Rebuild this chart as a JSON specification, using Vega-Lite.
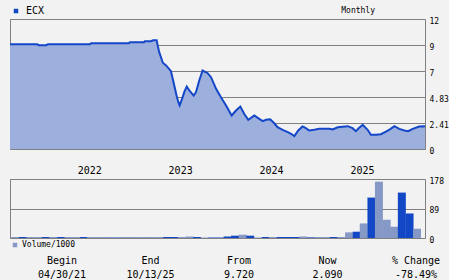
{
  "$schema": "https://vega.github.io/schema/vega-lite/v6.json",
  "background": "#f2f2f2",
  "padding": {"left": 5, "top": 5, "right": 0, "bottom": 0},
  "bounds": "flush",
  "spacing": 30,
  "config": {
    "font": "DejaVu Sans Mono",
    "view": {"stroke": "#808080", "strokeWidth": 1},
    "axis": {"labelFont": "DejaVu Sans Mono", "labelColor": "#000000", "gridColor": "#808080", "gridOpacity": 1, "gridWidth": 1, "domain": false, "ticks": false, "tickSize": 0, "title": null, "labelFlush": false, "labelOverlap": false},
    "legend": {"labelFont": "DejaVu Sans Mono", "labelColor": "#000000"}
  },
  "resolve": {"scale": {"x": "independent", "y": "independent", "color": "independent"}, "legend": {"color": "independent"}},
  "vconcat": [
    {
      "width": 415,
      "height": 130,
      "title": {"text": "Monthly", "anchor": "end", "frame": "group", "font": "DejaVu Sans Mono", "fontSize": 8, "fontWeight": "normal", "color": "#000000", "dx": -50, "dy": 15, "offset": 6},
      "data": {"values": [
        {"d": "2021-04-30", "p": 9.72, "s": "ECX"},
        {"d": "2021-08-14", "p": 9.72, "s": "ECX"},
        {"d": "2021-08-22", "p": 9.63, "s": "ECX"},
        {"d": "2021-09-18", "p": 9.63, "s": "ECX"},
        {"d": "2021-09-26", "p": 9.72, "s": "ECX"},
        {"d": "2022-03-10", "p": 9.72, "s": "ECX"},
        {"d": "2022-03-14", "p": 9.81, "s": "ECX"},
        {"d": "2022-08-09", "p": 9.81, "s": "ECX"},
        {"d": "2022-08-13", "p": 9.90, "s": "ECX"},
        {"d": "2022-10-07", "p": 9.90, "s": "ECX"},
        {"d": "2022-10-11", "p": 10.00, "s": "ECX"},
        {"d": "2022-11-04", "p": 10.00, "s": "ECX"},
        {"d": "2022-11-12", "p": 10.09, "s": "ECX"},
        {"d": "2022-11-26", "p": 10.09, "s": "ECX"},
        {"d": "2022-11-30", "p": 9.60, "s": "ECX"},
        {"d": "2022-12-06", "p": 8.98, "s": "ECX"},
        {"d": "2022-12-13", "p": 8.51, "s": "ECX"},
        {"d": "2022-12-20", "p": 8.00, "s": "ECX"},
        {"d": "2023-01-02", "p": 7.75, "s": "ECX"},
        {"d": "2023-01-21", "p": 7.22, "s": "ECX"},
        {"d": "2023-01-28", "p": 6.51, "s": "ECX"},
        {"d": "2023-02-03", "p": 5.89, "s": "ECX"},
        {"d": "2023-02-12", "p": 4.96, "s": "ECX"},
        {"d": "2023-02-19", "p": 4.34, "s": "ECX"},
        {"d": "2023-02-24", "p": 4.04, "s": "ECX"},
        {"d": "2023-03-08", "p": 4.81, "s": "ECX"},
        {"d": "2023-03-14", "p": 5.27, "s": "ECX"},
        {"d": "2023-03-24", "p": 5.80, "s": "ECX"},
        {"d": "2023-04-03", "p": 5.43, "s": "ECX"},
        {"d": "2023-04-20", "p": 4.96, "s": "ECX"},
        {"d": "2023-04-29", "p": 5.27, "s": "ECX"},
        {"d": "2023-05-12", "p": 6.35, "s": "ECX"},
        {"d": "2023-05-25", "p": 7.28, "s": "ECX"},
        {"d": "2023-06-14", "p": 7.03, "s": "ECX"},
        {"d": "2023-06-27", "p": 6.66, "s": "ECX"},
        {"d": "2023-07-17", "p": 5.58, "s": "ECX"},
        {"d": "2023-08-05", "p": 4.81, "s": "ECX"},
        {"d": "2023-08-25", "p": 4.04, "s": "ECX"},
        {"d": "2023-09-16", "p": 3.11, "s": "ECX"},
        {"d": "2023-10-03", "p": 3.57, "s": "ECX"},
        {"d": "2023-10-20", "p": 3.94, "s": "ECX"},
        {"d": "2023-11-04", "p": 3.27, "s": "ECX"},
        {"d": "2023-11-20", "p": 2.71, "s": "ECX"},
        {"d": "2023-12-14", "p": 3.11, "s": "ECX"},
        {"d": "2024-01-02", "p": 2.80, "s": "ECX"},
        {"d": "2024-01-16", "p": 2.58, "s": "ECX"},
        {"d": "2024-01-29", "p": 2.71, "s": "ECX"},
        {"d": "2024-02-14", "p": 2.76, "s": "ECX"},
        {"d": "2024-03-01", "p": 2.39, "s": "ECX"},
        {"d": "2024-03-14", "p": 2.02, "s": "ECX"},
        {"d": "2024-04-03", "p": 1.78, "s": "ECX"},
        {"d": "2024-04-23", "p": 1.56, "s": "ECX"},
        {"d": "2024-05-06", "p": 1.41, "s": "ECX"},
        {"d": "2024-05-19", "p": 1.19, "s": "ECX"},
        {"d": "2024-06-03", "p": 1.72, "s": "ECX"},
        {"d": "2024-06-20", "p": 2.09, "s": "ECX"},
        {"d": "2024-07-03", "p": 1.93, "s": "ECX"},
        {"d": "2024-07-16", "p": 1.72, "s": "ECX"},
        {"d": "2024-08-05", "p": 1.78, "s": "ECX"},
        {"d": "2024-08-24", "p": 1.87, "s": "ECX"},
        {"d": "2024-10-03", "p": 1.87, "s": "ECX"},
        {"d": "2024-10-16", "p": 1.81, "s": "ECX"},
        {"d": "2024-11-05", "p": 2.02, "s": "ECX"},
        {"d": "2024-12-14", "p": 2.12, "s": "ECX"},
        {"d": "2025-01-02", "p": 1.93, "s": "ECX"},
        {"d": "2025-01-15", "p": 1.65, "s": "ECX"},
        {"d": "2025-01-28", "p": 1.97, "s": "ECX"},
        {"d": "2025-02-11", "p": 2.24, "s": "ECX"},
        {"d": "2025-03-02", "p": 1.78, "s": "ECX"},
        {"d": "2025-03-15", "p": 1.32, "s": "ECX"},
        {"d": "2025-04-04", "p": 1.32, "s": "ECX"},
        {"d": "2025-04-23", "p": 1.37, "s": "ECX"},
        {"d": "2025-05-13", "p": 1.62, "s": "ECX"},
        {"d": "2025-05-30", "p": 1.84, "s": "ECX"},
        {"d": "2025-06-15", "p": 2.12, "s": "ECX"},
        {"d": "2025-07-04", "p": 1.87, "s": "ECX"},
        {"d": "2025-07-24", "p": 1.72, "s": "ECX"},
        {"d": "2025-08-08", "p": 1.65, "s": "ECX"},
        {"d": "2025-08-26", "p": 1.87, "s": "ECX"},
        {"d": "2025-09-20", "p": 2.09, "s": "ECX"},
        {"d": "2025-10-10", "p": 2.12, "s": "ECX"},
        {"d": "2025-10-13", "p": 2.09, "s": "ECX"}
      ]},
      "encoding": {
        "x": {"field": "d", "type": "temporal", "scale": {"domain": ["2021-04-30", "2025-10-13"]}, "axis": null},
        "y": {"field": "p", "type": "quantitative", "scale": {"domain": [0, 12.06], "nice": false, "zero": true},
              "axis": {"orient": "right", "values": [0, 2.412, 4.824, 7.236, 9.648, 12.06], "grid": true, "labelFontSize": 8, "labelPadding": 4, "labelBaseline": "middle", "labelOffset": 2,
                       "labelExpr": "datum.value == 0 ? '0' : datum.value < 3 ? '2.41' : datum.value < 6 ? '4.83' : datum.value < 8 ? '7' : datum.value < 10 ? '9' : '12'"}}
      },
      "layer": [
        {"mark": {"type": "area", "color": "#9dafdc", "interpolate": "linear"}},
        {"mark": {"type": "line", "strokeWidth": 2, "interpolate": "linear"},
         "encoding": {"color": {"field": "s", "type": "nominal", "scale": {"range": ["#1447c8"]},
            "legend": {"title": null, "orient": "none", "legendX": 1, "legendY": -13, "symbolType": "square", "symbolSize": 20, "symbolStrokeWidth": 0, "labelFontSize": 10, "labelOffset": 5,
                       "encode": {"symbols": {"update": {"fill": {"value": "#1447c8"}, "stroke": {"value": "#1447c8"}}}}}}}}
      ]
    },
    {
      "vconcat": [
        {
          "width": 415,
          "height": 59,
          "data": {"values": [
            {"d": "2021-05-01", "v": 3, "c": "down"},
            {"d": "2021-06-01", "v": 3, "c": "up"},
            {"d": "2021-07-01", "v": 3, "c": "down"},
            {"d": "2021-08-01", "v": 3, "c": "down"},
            {"d": "2021-09-01", "v": 3, "c": "up"},
            {"d": "2021-10-01", "v": 3, "c": "down"},
            {"d": "2021-11-01", "v": 3, "c": "up"},
            {"d": "2021-12-01", "v": 3, "c": "down"},
            {"d": "2022-01-01", "v": 3, "c": "down"},
            {"d": "2022-02-01", "v": 3, "c": "up"},
            {"d": "2022-03-01", "v": 3, "c": "down"},
            {"d": "2022-04-01", "v": 3, "c": "down"},
            {"d": "2022-05-01", "v": 3, "c": "down"},
            {"d": "2022-06-01", "v": 1.5, "c": "up"},
            {"d": "2022-07-01", "v": 3, "c": "down"},
            {"d": "2022-08-01", "v": 3, "c": "down"},
            {"d": "2022-09-01", "v": 3, "c": "down"},
            {"d": "2022-10-01", "v": 3, "c": "down"},
            {"d": "2022-11-01", "v": 3, "c": "down"},
            {"d": "2022-12-01", "v": 3, "c": "down"},
            {"d": "2023-01-01", "v": 3, "c": "up"},
            {"d": "2023-02-01", "v": 3, "c": "up"},
            {"d": "2023-03-01", "v": 3, "c": "down"},
            {"d": "2023-04-01", "v": 4.5, "c": "down"},
            {"d": "2023-05-01", "v": 3, "c": "up"},
            {"d": "2023-06-01", "v": 1.5, "c": "down"},
            {"d": "2023-07-01", "v": 1.5, "c": "up"},
            {"d": "2023-08-01", "v": 1.5, "c": "up"},
            {"d": "2023-09-01", "v": 4.5, "c": "up"},
            {"d": "2023-10-01", "v": 7, "c": "up"},
            {"d": "2023-11-01", "v": 10, "c": "down"},
            {"d": "2023-12-01", "v": 7, "c": "up"},
            {"d": "2024-01-01", "v": 1.5, "c": "down"},
            {"d": "2024-02-01", "v": 3, "c": "up"},
            {"d": "2024-03-01", "v": 3, "c": "down"},
            {"d": "2024-04-01", "v": 3, "c": "up"},
            {"d": "2024-05-01", "v": 3, "c": "up"},
            {"d": "2024-06-01", "v": 3, "c": "up"},
            {"d": "2024-07-01", "v": 4.5, "c": "down"},
            {"d": "2024-08-01", "v": 2, "c": "up"},
            {"d": "2024-09-01", "v": 3, "c": "down"},
            {"d": "2024-10-01", "v": 3, "c": "down"},
            {"d": "2024-11-01", "v": 3, "c": "up"},
            {"d": "2024-12-01", "v": 3, "c": "down"},
            {"d": "2025-01-01", "v": 17, "c": "down"},
            {"d": "2025-02-01", "v": 19, "c": "up"},
            {"d": "2025-03-01", "v": 44, "c": "down"},
            {"d": "2025-04-01", "v": 122, "c": "up"},
            {"d": "2025-05-01", "v": 170, "c": "down"},
            {"d": "2025-06-01", "v": 55, "c": "down"},
            {"d": "2025-07-01", "v": 34, "c": "down"},
            {"d": "2025-08-01", "v": 137, "c": "up"},
            {"d": "2025-09-01", "v": 74, "c": "up"},
            {"d": "2025-10-01", "v": 28, "c": "down"}
          ]},
          "mark": {"type": "bar", "size": 8, "clip": true},
          "encoding": {
            "x": {"field": "d", "type": "temporal", "scale": {"domain": ["2021-04-30", "2025-10-13"]},
                  "axis": {"orient": "top", "grid": false, "values": ["2022-01-01", "2023-01-01", "2024-01-01", "2025-01-01"], "format": "%Y", "labelAlign": "left", "labelOffset": 1, "labelFontSize": 10, "labelPadding": 4}},
            "y": {"field": "v", "type": "quantitative", "scale": {"domain": [0, 178], "nice": false},
                  "axis": {"orient": "right", "values": [0, 89, 178], "grid": true, "labelFontSize": 8, "labelPadding": 4, "labelBaseline": "middle", "labelOffset": 2}},
            "color": {"field": "c", "type": "nominal", "scale": {"domain": ["down", "up"], "range": ["#8698c6", "#1247c6"]},
                      "legend": {"title": null, "values": ["down"], "labelExpr": "'Volume/1000'", "orient": "none", "legendX": 1, "legendY": 62, "symbolType": "square", "symbolSize": 20, "labelFontSize": 8, "labelOffset": 3}}
          }
        },
        {
          "width": 415,
          "height": 28,
          "view": {"stroke": null},
          "data": {"values": [
            {"r": "a", "c": "Begin", "t": "Begin"},
            {"r": "a", "c": "End", "t": "End"},
            {"r": "a", "c": "From", "t": "From"},
            {"r": "a", "c": "Now", "t": "Now"},
            {"r": "a", "c": "Change", "t": "% Change"},
            {"r": "b", "c": "Begin", "t": "04/30/21"},
            {"r": "b", "c": "End", "t": "10/13/25"},
            {"r": "b", "c": "From", "t": "9.720"},
            {"r": "b", "c": "Now", "t": "2.090"},
            {"r": "b", "c": "Change", "t": "-78.49%"}
          ]},
          "mark": {"type": "text", "font": "DejaVu Sans Mono", "fontSize": 10, "color": "#000000"},
          "encoding": {
            "x": {"field": "c", "type": "nominal", "sort": ["Begin", "End", "From", "Now", "Change"], "scale": {"type": "point", "range": [52, 406], "padding": 0}, "axis": null},
            "y": {"field": "r", "type": "nominal", "scale": {"type": "point", "padding": 0.5}, "axis": null},
            "text": {"field": "t"}
          }
        }
      ],
      "spacing": 16,
      "bounds": "flush"
    }
  ]
}
